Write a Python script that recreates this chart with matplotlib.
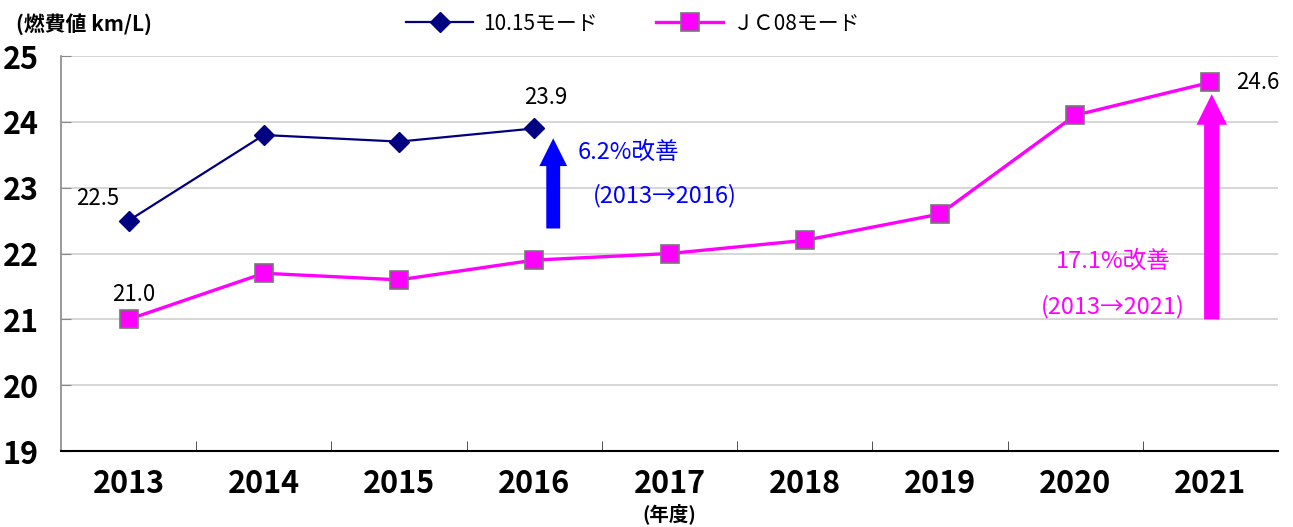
import matplotlib.pyplot as plt
import numpy as np

years = ['2013', '2014', '2015', '2016', '2017', '2018', '2019', '2020', '2021']
mode_1015 = [22.5, 23.8, 23.7, 23.9]
mode_jc08 = [21.0, 21.7, 21.6, 21.9, 22.0, 22.2, 22.6, 24.1, 24.6]

NARROW = ['Liberation Sans Narrow', 'Noto Sans CJK JP', 'DejaVu Sans']
plt.rcParams['font.family'] = ['Noto Sans CJK JP', 'DejaVu Sans']

fig = plt.figure(figsize=(12.93, 5.27), dpi=100)
ax = fig.add_axes([0.0472, 0.1442, 0.9412, 0.7495])

x = np.arange(len(years))
ax.plot(x[:len(mode_1015)], mode_1015, color='#000080', lw=1.6, marker='D',
        markersize=10, markerfacecolor='#000080', markeredgecolor='#000080',
        label='10.15モード', zorder=4)
ax.plot(x, mode_jc08, color='#FF00FF', lw=2.4, marker='s', markersize=13,
        markerfacecolor='#FF00FF', markeredgecolor='#777777', markeredgewidth=1.2,
        label='ＪＣ08モード', zorder=4)

ax.set_xlim(-0.5, len(years) - 0.5)
ax.set_ylim(19, 25)
ax.set_yticks(range(19, 26))
ax.yaxis.grid(True, color='#d0d0d0', lw=1.2)
ax.set_axisbelow(True)

# category labels centred, ticks on the boundaries
ax.set_xticks(x)
ax.set_xticklabels(years)
ax.set_xticks(np.arange(0.5, len(years) - 0.5, 1), minor=True)
ax.tick_params(axis='x', which='major', length=0, pad=12)
ax.tick_params(axis='x', which='minor', direction='in', length=7, color='#333333')
ax.tick_params(axis='y', direction='in', length=7, color='#888888', pad=16)
for lab in ax.get_xticklabels() + ax.get_yticklabels():
    lab.set_family(NARROW)
    lab.set_fontsize(22)
    lab.set_fontweight('bold')

for s in ['top', 'right']:
    ax.spines[s].set_visible(False)
ax.spines['left'].set_color('#888888')
ax.spines['left'].set_linewidth(1.2)
ax.spines['bottom'].set_color('black')
ax.spines['bottom'].set_linewidth(1.5)

# value labels
lab_kw = dict(fontsize=16, family=NARROW, color='black')
ax.annotate(f'{mode_1015[0]:.1f}', (0, mode_1015[0]), xytext=(-22, 16),
            textcoords='offset points', ha='center', va='center', **lab_kw)
ax.annotate(f'{mode_jc08[0]:.1f}', (0, mode_jc08[0]), xytext=(4, 18),
            textcoords='offset points', ha='center', va='center', **lab_kw)
ax.annotate(f'{mode_1015[3]:.1f}', (3, mode_1015[3]), xytext=(8, 22),
            textcoords='offset points', ha='center', va='center', **lab_kw)
ax.annotate(f'{mode_jc08[8]:.1f}', (8, mode_jc08[8]), xytext=(34, 0),
            textcoords='offset points', ha='center', va='center', **lab_kw)

# improvement arrows
ax.annotate('', xy=(3.14, 23.75), xytext=(3.14, 22.38),
            arrowprops=dict(arrowstyle='simple,head_length=1.0,head_width=1.0,tail_width=0.5',
                            color='#0000FF', lw=0, shrinkA=0, shrinkB=0, mutation_scale=20))
ax.annotate('', xy=(8.01, 24.42), xytext=(8.01, 21.0),
            arrowprops=dict(arrowstyle='simple,head_length=1.1,head_width=1.1,tail_width=0.55',
                            color='#FF00FF', lw=0, shrinkA=0, shrinkB=0, mutation_scale=20))

ax.text(3.32, 23.53, '6.2%改善', color='#0000FF', fontsize=17, ha='left', va='center',
        family=NARROW)
ax.text(3.43, 22.88, '(2013→2016)', color='#0000FF', fontsize=17, ha='left', va='center',
        family=NARROW)
ax.text(7.28, 21.88, '17.1%改善', color='#FF00FF', fontsize=17, ha='center', va='center',
        family=NARROW)
ax.text(7.28, 21.2, '(2013→2021)', color='#FF00FF', fontsize=17, ha='center', va='center',
        family=NARROW)

fig.text(0.012, 0.955, '(燃費値 km/L)', fontsize=15, fontweight='bold', ha='left',
         va='center', family=NARROW)
fig.text(ax.get_position().x0 + ax.get_position().width * (4.5 / 9), 0.025, '(年度)',
         fontsize=14, fontweight='bold', ha='center', va='center', family=NARROW)

fig.legend(loc='center', bbox_to_anchor=(0.49, 0.955), ncol=2, frameon=False,
           handlelength=3.2, columnspacing=2.8, handletextpad=0.5,
           prop=dict(family=NARROW, size=15))

fig.savefig('out.png', dpi=100)
